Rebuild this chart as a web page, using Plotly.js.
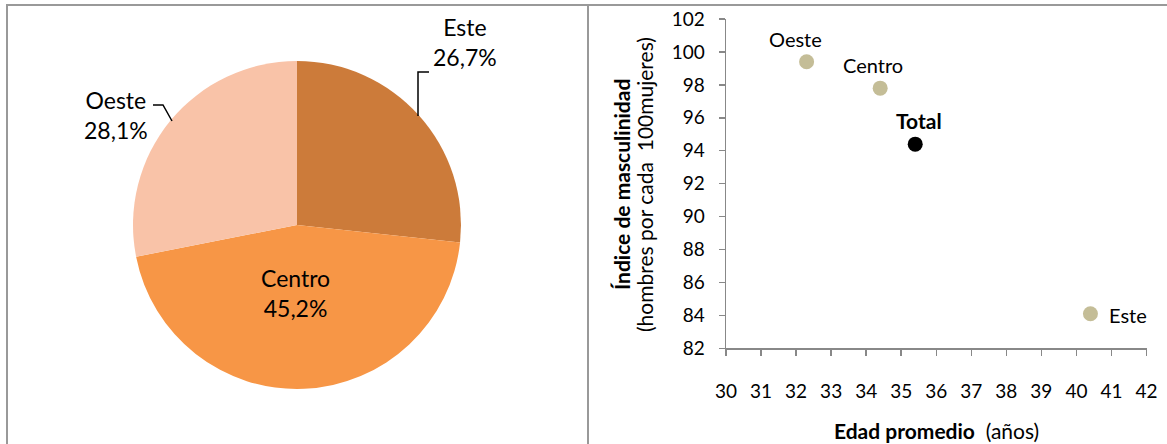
<!DOCTYPE html>
<html>
<head>
<meta charset="utf-8">
<script src="https://cdn.plot.ly/plotly-3.0.1.min.js"></script>
<style>
html,body{margin:0;padding:0;background:#fff;}
#chart{width:1167px;height:444px;}
</style>
</head>
<body>
<div id="chart"></div>
<script>
// ---- Data ----
const pieLabels = ['Este', 'Centro', 'Oeste'];
const pieValues = [26.7, 45.2, 28.1];
const pieColors = ['#CC7B3A', '#F79646', '#F9C3A8'];

const regions = ['Oeste', 'Centro', 'Este'];
const edadPromedio = [32.3, 34.4, 40.4];
const indiceMasc = [99.4, 97.8, 84.1];

const totalLabel = ['Total'];
const totalEdad = [35.4];
const totalIndice = [94.4];

const xTicks = [30, 31, 32, 33, 34, 35, 36, 37, 38, 39, 40, 41, 42];
const yTicks = [82, 84, 86, 88, 90, 92, 94, 96, 98, 100, 102];

// ---- helpers (pixel -> paper) ----
const W = 1167, H = 444;
const px = x => x / W;
const py = y => 1 - y / H;
const FONT = 'Lato, "Open Sans", sans-serif';
const fmt = v => v.toFixed(1).replace('.', ',') + '%';

const pie = {
  type: 'pie',
  labels: pieLabels,
  values: pieValues,
  marker: {colors: pieColors, line: {width: 0}},
  sort: false,
  direction: 'clockwise',
  rotation: 0,
  textinfo: 'none',
  hoverinfo: 'label+percent',
  showlegend: false,
  domain: {x: [px(297 - 164), px(297 + 164)], y: [(219 - 164) / H, (219 + 164) / H]}
};

const scRegions = {
  type: 'scatter',
  mode: 'markers',
  x: edadPromedio,
  y: indiceMasc,
  marker: {size: 15, color: '#C4BD97'},
  cliponaxis: false,
  showlegend: false,
  xaxis: 'x', yaxis: 'y'
};
const scTotal = {
  type: 'scatter',
  mode: 'markers',
  x: totalEdad,
  y: totalIndice,
  marker: {size: 15, color: '#000'},
  cliponaxis: false,
  showlegend: false,
  xaxis: 'x', yaxis: 'y'
};

// pie label annotations
const pieLabelPos = [[465, 42], [295, 293], [116, 115]];
const annotations = pieLabels.map((l, i) => ({
  xref: 'paper', yref: 'paper',
  x: px(pieLabelPos[i][0]), y: py(pieLabelPos[i][1]),
  text: l + '<br>' + fmt(pieValues[i]),
  showarrow: false,
  font: {family: FONT, size: 23, color: '#000'},
  xanchor: 'center', yanchor: 'middle', align: 'center'
}));

// scatter point labels (anchored on data)
const regionLabelOffsets = [
  {xanchor: 'center', xshift: -11, yshift: 23},
  {xanchor: 'center', xshift: -7, yshift: 23},
  {xanchor: 'left', xshift: 17, yshift: -1}
];
regions.forEach((r, i) => {
  annotations.push(Object.assign({
    xref: 'x', yref: 'y', x: edadPromedio[i], y: indiceMasc[i],
    text: r, showarrow: false, yanchor: 'middle',
    font: {family: FONT, size: 20, color: '#000'}
  }, regionLabelOffsets[i]));
});
totalLabel.forEach((t, i) => {
  annotations.push({
    xref: 'x', yref: 'y', x: totalEdad[i], y: totalIndice[i],
    text: '<b>' + t + '</b>', showarrow: false, xanchor: 'center', yanchor: 'middle',
    xshift: 4, yshift: 24,
    font: {family: FONT, size: 21, color: '#000'}
  });
});

annotations.push({
  xref: 'paper', yref: 'paper', x: px(621), y: py(185),
  text: '<b>Índice de masculinidad</b>', textangle: -90, showarrow: false,
  font: {family: FONT, size: 21, color: '#000'}, xanchor: 'center', yanchor: 'middle'
});
annotations.push({
  xref: 'paper', yref: 'paper', x: px(644), y: py(185),
  text: '(hombres por cada  100mujeres)', textangle: -90, showarrow: false,
  font: {family: FONT, size: 21, color: '#000'}, xanchor: 'center', yanchor: 'middle'
});
annotations.push({
  xref: 'paper', yref: 'paper', x: px(936), y: py(430),
  text: '<b>Edad promedio</b>  (años)', showarrow: false,
  font: {family: FONT, size: 21, color: '#000'}, xanchor: 'center', yanchor: 'middle'
});

const pathFrom = pts => 'M ' + pts.map(p => px(p[0]) + ' ' + py(p[1])).join(' L ');

const shapes = [
  // panel borders
  {type: 'path', xref: 'paper', yref: 'paper',
   path: pathFrom([[7, 460], [7, 5], [1167, 5]]), line: {color: '#999999', width: 2}},
  {type: 'line', xref: 'paper', yref: 'paper', x0: px(588), x1: px(588), y0: py(5), y1: py(460),
   line: {color: '#999999', width: 2}},
  // leader lines
  {type: 'path', xref: 'paper', yref: 'paper',
   path: pathFrom([[429, 72], [418, 72], [418, 116]]), line: {color: '#000', width: 1.5}},
  {type: 'path', xref: 'paper', yref: 'paper',
   path: pathFrom([[153, 105], [163, 105], [172, 121]]), line: {color: '#000', width: 1.5}}
];

const axisCommon = {
  showgrid: false, zeroline: false, showline: true,
  linecolor: '#888888', linewidth: 1.5,
  ticks: 'outside', ticklen: 6, tickcolor: '#888888', tickwidth: 1.5,
  tickfont: {family: FONT, size: 19, color: '#000'},
  fixedrange: true
};

const layout = {
  width: W, height: H,
  margin: {l: 0, r: 0, t: 0, b: 0},
  paper_bgcolor: '#fff', plot_bgcolor: 'rgba(0,0,0,0)',
  showlegend: false,
  xaxis: Object.assign({}, axisCommon, {
    domain: [px(726), px(1146.5)], range: [30, 42],
    tickmode: 'array', tickvals: xTicks, ticktext: xTicks.map(String),
    anchor: 'y', ticklabelstandoff: 19
  }),
  yaxis: Object.assign({}, axisCommon, {
    domain: [py(348.3), py(19)], range: [82, 102],
    tickmode: 'array', tickvals: yTicks, ticktext: yTicks.map(String),
    anchor: 'x', ticklabelstandoff: 10
  }),
  annotations: annotations,
  shapes: shapes
};

Plotly.newPlot('chart', [pie, scRegions, scTotal], layout, {displayModeBar: false, staticPlot: true});
</script>
</body>
</html>
